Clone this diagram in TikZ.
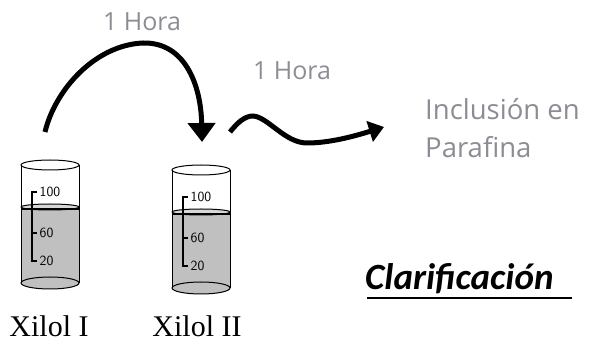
\documentclass[tikz,border=0pt]{standalone}
\usepackage{fontspec}
\setmainfont{Liberation Serif}
\newfontfamily\lightsans{Open Sans}
\newfontfamily\calib{Carlito}
\usetikzlibrary{arrows.meta}
\definecolor{liquid}{RGB}{192,192,192}
\definecolor{surface}{RGB}{215,215,215}
\definecolor{lighttext}{RGB}{140,140,148}
\tikzset{
  glass/.style={draw=black, line width=1pt},
  flowarrow/.style={line width=5pt},
  hora/.style={font=\lightsans\fontsize{25}{28}\selectfont, text=lighttext, inner sep=0pt},
  marklbl/.style={font=\sffamily\fontsize{14}{14}\selectfont, inner sep=0.5pt, anchor=west},
  xilol/.style={font=\fontsize{30}{32}\selectfont, inner sep=0pt},
  beaker/.pic={
    \fill[liquid] (-29,43) rectangle (29,118);
    \fill[liquid] (0,118) ellipse (29 and 6);
    \draw[glass, fill=surface] (0,42) ellipse (29 and 3);
    \draw[line width=2.5pt] (-29,44) -- (29,44);
    \draw[glass] (0,118) ellipse (29 and 6);
    \draw[glass] (0,0) ellipse (29 and 5);
    \draw[glass] (-29,0) -- (-29,118);
    \draw[glass] (29,0) -- (29,118);
    \draw[line width=1.2pt] (-13,27) -- (-18,27) -- (-18,96) -- (-13,96);
    \draw[line width=1.2pt] (-18,68) -- (-13,68);
    \node[marklbl] at (-11,27) {100};
    \node[marklbl] at (-11,68) {60};
    \node[marklbl] at (-11,96) {20};
  }
}
\begin{document}
\begin{tikzpicture}[x=1pt,y=-1pt]
\useasboundingbox (0,0) rectangle (589,347);
\pic (b1) at (50,165) {beaker};
\pic (b2) at (201,170) {beaker};
\node[xilol] (x1) at (49,326) {Xilol I};
\node[xilol] (x2) at (197,326) {Xilol II};
\node[hora] (h1) at (142,22) {1 Hora};
\node[hora] (h2) at (292,71) {1 Hora};
\node[font=\lightsans\fontsize{27.5}{38}\selectfont, text=lighttext, inner sep=0pt, anchor=north west, align=left] (inc) at (425,98) {Inclusión en\\Parafina};
\node[font=\calib\bfseries\itshape\fontsize{37}{40}\selectfont, inner sep=0pt, anchor=base west] (cl) at (365,290) {Clarificación};
\coordinate (ulA) at (367,298);
\coordinate (ulB) at (572,298);
\draw[line width=2.5pt] (ulA) -- (ulB);
\coordinate (a1s) at (45,132);
\coordinate (a1e) at (202,142);
\coordinate (a2s) at (230,132);
\coordinate (a2e) at (384,127);
\draw[flowarrow, -{Triangle[width=27pt,length=19pt]}] (a1s) .. controls (55,90) and (95,45) .. (143,43) .. controls (185,42) and (201,85) .. (a1e);
\draw[flowarrow, -{Triangle[width=21pt,length=15pt]}] (a2s) .. controls (238,122) and (245,116) .. (253,116) .. controls (268,117) and (285,143) .. (307,143) .. controls (330,143) and (355,136) .. (a2e);
\end{tikzpicture}
\end{document}
